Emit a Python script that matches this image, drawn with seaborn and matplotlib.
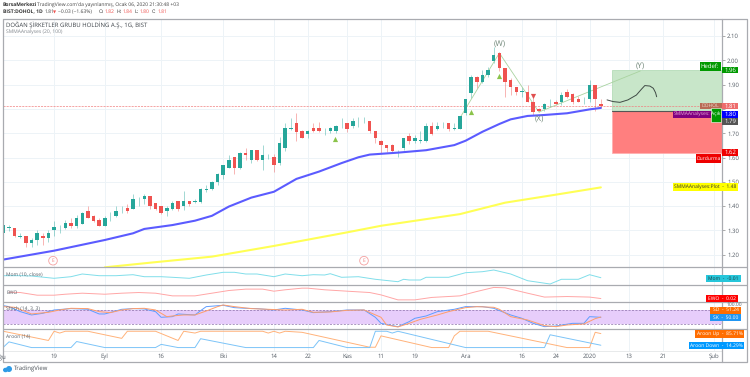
import matplotlib
matplotlib.use('Agg')
from matplotlib import pyplot as plt
from matplotlib.patches import Rectangle, Circle, Ellipse
import seaborn as sns
import numpy as np

# Candles, one row of ten per line
candle_open = [1.288,1.311,1.311,1.273,1.279,1.249,1.260,1.279,1.270,1.300,
               1.313,1.310,1.330,1.319,1.327,1.380,1.360,1.341,1.319,1.349,
               1.359,1.392,1.391,1.389,1.432,1.429,1.441,1.411,1.400,1.378,
               1.388,1.419,1.399,1.419,1.418,1.418,1.468,1.469,1.499,1.528,
               1.558,1.601,1.558,1.620,1.590,1.631,1.590,1.605,1.601,1.579,
               1.638,1.719,1.741,1.709,1.697,1.720,1.720,1.709,1.708,1.709,
               1.729,1.741,1.730,1.742,1.746,1.750,1.709,1.669,1.650,1.650,
               1.620,1.638,1.690,1.668,1.668,1.668,1.730,1.719,1.740,1.741,
               1.719,1.719,1.782,1.864,1.930,1.909,1.938,1.998,2.029,1.970,
               1.919,1.889,1.870,1.870,1.830,1.798,1.798,1.819,1.830,1.830,
               1.870,1.860,1.841,1.840,1.841,1.898,1.820]
candle_high = [1.322,1.322,1.311,1.288,1.279,1.267,1.301,1.288,1.301,1.340,
               1.322,1.343,1.349,1.363,1.377,1.400,1.363,1.349,1.359,1.377,
               1.400,1.400,1.408,1.450,1.439,1.450,1.441,1.414,1.400,1.400,
               1.421,1.419,1.462,1.421,1.428,1.473,1.487,1.503,1.535,1.569,
               1.610,1.603,1.624,1.638,1.631,1.631,1.651,1.614,1.614,1.683,
               1.743,1.761,1.782,1.713,1.713,1.741,1.747,1.720,1.727,1.734,
               1.761,1.743,1.761,1.768,1.768,1.750,1.710,1.672,1.651,1.656,
               1.631,1.679,1.699,1.693,1.709,1.741,1.747,1.747,1.747,1.741,
               1.741,1.771,1.841,1.939,1.935,1.960,1.971,2.056,2.035,1.970,
               1.926,1.891,1.889,1.898,1.843,1.802,1.823,1.839,1.837,1.871,
               1.880,1.864,1.853,1.850,1.919,1.898,1.839]
candle_low = [1.288,1.297,1.271,1.267,1.230,1.233,1.240,1.240,1.251,1.277,
              1.288,1.307,1.311,1.311,1.325,1.349,1.336,1.319,1.318,1.338,
              1.354,1.373,1.370,1.388,1.400,1.408,1.389,1.386,1.367,1.359,
              1.384,1.378,1.386,1.400,1.411,1.411,1.459,1.465,1.487,1.510,
              1.555,1.531,1.551,1.590,1.579,1.586,1.549,1.592,1.542,1.569,
              1.628,1.713,1.669,1.679,1.679,1.706,1.706,1.693,1.699,1.699,
              1.720,1.706,1.720,1.727,1.741,1.699,1.658,1.620,1.624,1.620,
              1.601,1.631,1.654,1.658,1.658,1.665,1.693,1.713,1.720,1.710,
              1.713,1.716,1.775,1.843,1.885,1.905,1.933,1.987,1.956,1.850,
              1.857,1.857,1.850,1.830,1.775,1.788,1.791,1.806,1.816,1.816,
              1.843,1.820,1.827,1.820,1.830,1.791,1.802]
candle_close = [1.322,1.313,1.278,1.275,1.249,1.260,1.290,1.270,1.290,1.312,
                1.315,1.330,1.319,1.351,1.370,1.349,1.338,1.319,1.351,1.351,
                1.380,1.394,1.378,1.429,1.434,1.440,1.399,1.389,1.370,1.391,
                1.411,1.388,1.419,1.410,1.420,1.469,1.470,1.500,1.531,1.569,
                1.590,1.558,1.620,1.609,1.631,1.590,1.610,1.607,1.569,1.658,
                1.720,1.721,1.706,1.679,1.709,1.709,1.709,1.711,1.720,1.730,
                1.731,1.717,1.750,1.744,1.748,1.709,1.679,1.650,1.639,1.628,
                1.622,1.679,1.668,1.679,1.670,1.730,1.697,1.730,1.742,1.719,
                1.721,1.771,1.841,1.930,1.909,1.939,1.960,2.020,1.970,1.909,
                1.889,1.870,1.872,1.830,1.788,1.791,1.819,1.821,1.820,1.857,
                1.850,1.830,1.830,1.842,1.898,1.841,1.810]

# SMMA lines
smma20_bar = [0,9,18,23,25,30,34,37,40,44,48,52,56,60,63,65,70,75,80,82,85,88,90,93,96,100,104,106]
smma20_val = [1.180,1.2165,1.2605,1.288,1.306,1.322,1.340,1.360,1.398,1.435,1.459,1.512,1.542,1.577,
              1.601,1.612,1.620,1.630,1.651,1.669,1.706,1.738,1.757,1.771,1.775,1.782,1.798,1.804]
smma100_bar = [18,26,37,48,61,67,81,89,98,106]
smma100_val = [1.148,1.167,1.192,1.236,1.292,1.319,1.367,1.414,1.447,1.477]

# Elliott wave drawing
wave_bar = [81,88,95,113]
wave_val = [1.763,2.030,1.787,1.956]
wave_names = ['(W)', '(X)', '(Y)']
wave_name_bar = [88, 95, 113]
wave_name_val = [2.067, 1.758, 1.978]
arrow_bar = [107.1,108.2,109.4,110.8,112.3,113.2,113.8,114.7,115.3,115.7,115.9]
arrow_val = [1.837,1.830,1.827,1.837,1.857,1.881,1.896,1.894,1.885,1.867,1.850]

# Signal triangles
up_bar = [58.8, 83, 87.9]
up_val = [1.676, 1.787, 1.937]
down_bar = [93.9]
down_val = [1.854]

# Long position tool
entry_price = 1.793
target_price = 1.96
stop_price = 1.62
last_price = 1.81
price_ticks = [1.20,1.30,1.40,1.50,1.60,1.70,1.80,1.90,2.00,2.10]

# Oscillators
mom_bar = [0,3,5,9,12,14,17,20,23,25,28,30,33,36,39,41,43,45,48,50,53,55,57,58,60,63,66,70,71,72,74,75,79,82,85,87,90,93,97,99,102,104,106]
mom_val = [.013,.013,.01,-.013,.003,.03,.013,.013,.023,.003,.003,-.003,-.013,.02,.047,.047,.03,.03,.003,.03,.013,
           .023,.02,.033,-.003,.003,-.023,-.047,-.023,-.03,-.03,-.003,-.003,.043,.053,.07,.03,-.037,-.07,-.023,-.023,.023,-.007]
ewo_bar = [1,3,6,9,11,14,18,21,24,27,30,34,37,40,43,46,48,50,53,54,57,61,65,67,70,73,76,81,84,87,89,93,96,100,104,106]
ewo_val = [.127,.121,.077,.077,.093,.11,.093,.11,.121,.11,.066,.066,.11,.154,.177,.177,.143,.166,.193,
           .193,.166,.143,.121,.082,0,0,.04,.066,.138,.205,.199,.11,.046,.055,.046,.022]
stoch_k_bar = [0,1,3,5,7,9,12,15,17,18,21,23,25,27,28,30,31,34,35,36,39,41,43,45,48,50,53,
               55,58,61,64,66,67,70,72,73,75,77,80,82,85,87,90,92,94,96,98,101,103,104,106]
stoch_k_val = [100,95.7,74.3,60,67.1,81.4,87.2,84.3,64.3,64.3,84.3,87.2,85.7,74.3,50,52.8,64.3,60,78.6,95.7,101.5,91.4,88.6,87.2,81.4,88.6,81.4,
               70,74.3,81.4,81.4,50,24.2,9.9,31.4,45.7,55.7,74.3,84.3,95.7,95.7,88.6,60,45.7,24.2,9.9,12.8,24.2,24.2,52.8,50]
stoch_d_bar = [0,2,4,5,8,10,12,15,17,19,21,23,25,27,29,30,32,34,36,38,39,41,44,47,50,53,
               55,58,61,64,67,68,70,72,74,77,79,82,84,87,88,90,93,96,98,100,103,105,106]
stoch_d_val = [95.7,92.9,74.3,64.3,71.4,81.4,88.6,87.2,74.3,70,81.4,87.2,88.6,81.4,52.8,55.7,60,60,77.1,95.7,102.9,95.7,87.2,84.3,81.4,84.3,
               71.4,72.9,80,81.4,50,17.1,8.5,24.2,41.4,60,74.3,91.4,95.7,92.9,84.3,52.8,38.5,14.2,9.9,17.1,21.4,44.3,51.2]
aroon_up_bar = [0,8,9,10,11,15,21,22,27,31,32,34,35,46,47,48,49,50,53,65,66,67,76,79,80,81,86,100,104,105,106]
aroon_up_val = [100,43.5,100,89,100,100,56.5,100,100,43.5,100,89,100,100,89,100,89,100,93.5,2,2,71.7,0,0,71.7,100,100,0,0,93.5,85.7]
aroon_dn_bar = [0,1,5,12,13,18,27,28,31,34,35,43,55,56,61,65,66,68,69,70,82,96,97,106]
aroon_dn_val = [2,34.8,0,0,37,0,0,19.6,0,0,54.3,0,0,43.5,0,0,100,100,89,100,0,0,78.3,14.3]

# X axis labels
date_ticks = [9,18,28,39,48,54,61,67,73,82,92,98,104,111,117,126]
date_labels = ['19','Eyl','16','Eki','14','22','Kas','11','19','Ara','16','24','2020','13','21','Şub']

GREEN = '#26a69a'
RED = '#ef5350'
GRID = '#edf3f7'
TEXT = '#555d66'
FRAME = '#a9abb0'

sns.set_style('white')
plt.rcParams['font.family'] = ['Open Sans', 'DejaVu Sans']
plt.rcParams['text.hinting'] = 'no_hinting'
plt.rcParams['text.hinting_factor'] = 1

W, H = 750, 377
fig = plt.figure(figsize=(W/100, H/100), dpi=100)
BAR_X0, BAR_DX = 3.33, 5.637
xlim = ((2.5-BAR_X0)/BAR_DX, (721.5-BAR_X0)/BAR_DX)

def panel(top, bottom):
    a = fig.add_axes([2.5/W, 1-bottom/H, 719/W, (bottom-top)/H])
    a.set_xlim(xlim)
    a.set_xticks(date_ticks)
    a.set_xticklabels([])
    a.tick_params(length=0, labelsize=4)
    a.grid(True, axis='x', color=GRID, linewidth=0.7)
    a.set_axisbelow(True)
    for s in a.spines.values():
        s.set_visible(False)
    return a

ax = panel(18.5, 267.3)
# 2.10 sits at y=36, 243 px per unit
ax.set_ylim(2.10-(267.3-36)/243, 2.10-(18.5-36)/243)
ax.set_yticks(price_ticks)
ax.yaxis.tick_right()
ax.tick_params(axis='y', length=2, width=0.5, color='#888888', labelsize=4.3, labelcolor=TEXT, pad=2)
ax.grid(True, axis='y', color=GRID, linewidth=0.7)
# the 1.80 label sits behind the price tags
ax.set_yticklabels(['' if t == 1.80 else '%.2f' % t for t in price_ticks])

# position tool
ax.add_patch(Rectangle((108, entry_price), xlim[1]-108, target_price-entry_price, fc='#c8e6c9', ec='#b5dcb8', lw=0.6, zorder=1))
ax.add_patch(Rectangle((108, stop_price), xlim[1]-108, entry_price-stop_price, fc='#ff7f7f', ec='#ffb0b0', lw=0.6, zorder=1))
ax.plot([108, xlim[1]], [entry_price, entry_price], color='#555555', lw=0.8, zorder=2)
ax.axhline(last_price, color='#f08080', lw=0.5, ls=(0, (3, 1.5)), zorder=2)

# candles
bars = np.arange(len(candle_open))
o, h, l, c = map(np.array, (candle_open, candle_high, candle_low, candle_close))
colors = [GREEN if cc >= oo else RED for oo, cc in zip(o, c)]
ax.vlines(bars, l, h, colors=colors, linewidth=0.5, alpha=0.6, zorder=3)
ax.bar(bars, np.abs(c-o), bottom=np.minimum(o, c), width=0.62, color=colors, linewidth=0, zorder=4)

sns.lineplot(x=wave_bar, y=wave_val, ax=ax, color='#a9d3a0', linewidth=0.6, estimator=None, sort=False, zorder=3)
sns.lineplot(x=smma100_bar, y=smma100_val, ax=ax, color='#ffff55', linewidth=1.5, estimator=None, zorder=5)
sns.lineplot(x=smma20_bar, y=smma20_val, ax=ax, color='#5b5bff', linewidth=1.5, estimator=None, zorder=5)
sns.lineplot(x=arrow_bar, y=arrow_val, ax=ax, color='#3f4a45', linewidth=0.7, estimator=None, sort=False, zorder=6)

ax.scatter(up_bar, up_val, marker='^', s=14, color='#8bc34a', linewidths=0, zorder=6)
ax.scatter(down_bar, down_val, marker='v', s=14, color='#e05050', linewidths=0, zorder=6)
for n, xb, yv in zip(wave_names, wave_name_bar, wave_name_val):
    ax.text(xb, yv, n, fontsize=6, color='#72887a', ha='center', va='center', zorder=6)

# Mom
ax_mom = panel(267.3, 285.3)
ax_mom.set_ylim(-0.083, 0.097)
sns.lineplot(x=mom_bar, y=mom_val, ax=ax_mom, color='#80deea', linewidth=0.7, estimator=None)
ax_mom.set_yticks([])

# EWO
ax_ewo = panel(285.3, 302.3)
ax_ewo.set_ylim(-0.04, 0.24)
sns.lineplot(x=ewo_bar, y=ewo_val, ax=ax_ewo, color='#ffa6a6', linewidth=0.7, estimator=None)
ax_ewo.set_yticks([])

# Stoch
ax_st = panel(302.3, 329.3)
ax_st.set_ylim(-1.4, 114.3)
ax_st.axhspan(20, 80, color='#e7cdfb', lw=0, zorder=1)
for lvl in (20, 80):
    ax_st.axhline(lvl, color='#8a6fa8', lw=0.5, ls=(0, (3, 2)), zorder=2)
sns.lineplot(x=stoch_k_bar, y=stoch_k_val, ax=ax_st, color='#5f9dff', linewidth=0.7, estimator=None, zorder=3)
sns.lineplot(x=stoch_d_bar, y=stoch_d_val, ax=ax_st, color='#ff9e6b', linewidth=0.7, estimator=None, zorder=3)
ax_st.set_yticks([])

# Aroon
ax_ar = panel(329.3, 350.5)
ax_ar.set_ylim(-18, 112)
sns.lineplot(x=aroon_up_bar, y=aroon_up_val, ax=ax_ar, color='#ffb27a', linewidth=0.7, estimator=None, zorder=3)
sns.lineplot(x=aroon_dn_bar, y=aroon_dn_val, ax=ax_ar, color='#7cc4f8', linewidth=0.7, estimator=None, zorder=3)
ax_ar.set_yticks([])

for a in (ax, ax_mom, ax_ewo, ax_st, ax_ar):
    a.set_xlabel('')
    a.set_ylabel('')

# overlay in pixels, for frame, tags and header
ov = fig.add_axes([0, 0, 1, 1], zorder=20)
ov.set_xlim(0, W)
ov.set_ylim(H, 0)
ov.axis('off')
ov.patch.set_alpha(0)

# frame
for y in (18.5, 267.3, 285.3, 302.3, 329.3, 361.7):
    ov.plot([2.5, 747], [y, y], color=FRAME, lw=0.9, solid_capstyle='butt')
ov.plot([2.5, 721.5], [350.5, 350.5], color='#e4e6e8', lw=0.6)
ov.plot([2.5, 2.5], [18.5, 361.7], color=FRAME, lw=0.9)
ov.plot([747, 747], [18.5, 361.7], color=FRAME, lw=0.9)
ov.plot([721.5, 721.5], [18.5, 361.7], color=FRAME, lw=0.9)

# dates
for t, s in zip(date_ticks, date_labels):
    ov.text(BAR_X0+BAR_DX*t, 356.5, s, fontsize=4.2, color=TEXT, ha='center', va='center')
ov.text(6, 356.5, 'Ağu', fontsize=4.2, color=TEXT, ha='right', va='center')

# E marks
for x in (53, 364):
    ov.add_patch(Circle((x, 260.7), 4.3, fc='white', ec='#f4a0a0', lw=0.6))
    ov.text(x, 260.7, 'E', fontsize=3.4, color='#f08080', ha='center', va='center')

def tag(x0, x1, y0, y1, fc, s, tc='white', fs=4, tx=None, ec='none'):
    ov.add_patch(Rectangle((x0, y0), x1-x0, y1-y0, fc=fc, ec=ec, lw=0.4, zorder=3))
    ov.text((x0+x1)/2 if tx is None else tx, (y0+y1)/2, s, fontsize=fs, color=tc, ha='center', va='center', zorder=4)

# price tags
tag(699.5, 720.5, 61.7, 71, '#009900', 'Hedef:')
tag(722, 738, 66.7, 73.3, '#009900', '1.96')
tag(700, 721.5, 103, 109.3, '#b96a55', 'DOHOL', tc='#e8d9c8', fs=3.7)
tag(722, 738, 103, 109.3, '#ee6c6c', '1.81')
tag(673, 711, 110.7, 117.7, '#800080', 'SMMAAnalyses:', tc='#e9a9d8', fs=3.6, tx=692)
tag(722, 738, 110.7, 117.7, '#0000ff', '1.80')
tag(711, 721, 107.7, 121.7, '#009900', 'Açık', fs=3.3, ec='white')
tag(722, 738, 118.3, 125, '#555555', '1.79')
tag(722, 738, 149, 156, '#ee0000', '1.62')
tag(696, 721, 154.3, 163.3, '#ee0000', 'Durdurma', fs=3.9)
tag(673, 738, 183, 191, '#ffff00', 'SMMAAnalyses:Plot  -  1.48', tc='#333333', fs=3.9)

# indicator tags
ov.text(734, 304.3, '100.00', fontsize=3.4, color=TEXT, ha='center', va='center')
tag(705.7, 741, 274.7, 281.7, '#26c6da', 'Mom  -  -0.01', tc='#1d3a40', fs=3.7)
tag(705.7, 738.3, 294.7, 302, '#ff0000', 'EWO  -  0.02', fs=3.7)
tag(710, 741, 306.7, 313.5, '#ff6d00', 'SD  -  51.24', fs=3.7)
tag(710, 741, 314, 321.3, '#2196f3', 'SK  -  50.00', fs=3.7)
tag(695, 744, 330.3, 337.7, '#ff6d00', 'Aroon Up  -  85.71%', fs=3.8)
tag(689, 744, 341.7, 349.3, '#0099ff', 'Aroon Down  -  14.29%', fs=3.8)

# panel titles
small = dict(fontsize=3.9, color=TEXT, ha='left', va='center')
ov.text(6.5, 275, 'Mom (10, close)', **small)
ov.text(6.5, 292.5, 'EWO', **small)
ov.text(6.5, 309, 'Stoch (14, 3, 3)', **small)
ov.text(6.5, 336.7, 'Aroon (14)', **small)
ov.text(6.5, 25, 'DOĞAN ŞİRKETLER GRUBU HOLDİNG A.Ş., 1G, BIST', fontsize=4, color='#3c4248', ha='left', va='center')
ov.text(6.5, 32.5, 'SMMAAnalyses (20, 100)', fontsize=3.9, color='#80868c', ha='left', va='center')

# header
ov.text(3, 5, 'BorsaMerkezi', fontsize=3.5, color='#333333', fontweight='bold', ha='left', va='center')
ov.text(37, 5, "TradingView.com'da yayınlanmış, Ocak 06, 2020 21:30:48 +03", fontsize=3.8, color='#444444', ha='left', va='center')
ov.text(3, 12, 'BIST:DOHOL, 1D', fontsize=3.5, color='#333333', fontweight='bold', ha='left', va='center')
head = [(44.5, '1.81', '#444444'), (53, '▼', '#ef5350'), (57.5, '−0.03 (−1.63%)', '#444444'),
        (99, 'O:', '#333333'), (105, '1.82', '#ef5350'), (117, 'H:', '#333333'), (123, '1.84', '#ef5350'),
        (135, 'L:', '#333333'), (140, '1.80', '#ef5350'), (152, 'C:', '#333333'), (157.5, '1.81', '#ef5350')]
for x, s, col in head:
    ov.text(x, 12, s, fontsize=3.8 if s != '▼' else 3.2, color=col, ha='left', va='center')

# TradingView mark
ov.add_patch(Ellipse((5.5, 370), 5, 4.5, fc='#2e9be6', ec='none'))
ov.add_patch(Ellipse((9, 369), 6, 6, fc='#2e9be6', ec='none'))
ov.text(14, 369.3, 'TradingView', fontsize=4.6, color='#4a5158', ha='left', va='center')

fig.savefig('out.png', dpi=100)
